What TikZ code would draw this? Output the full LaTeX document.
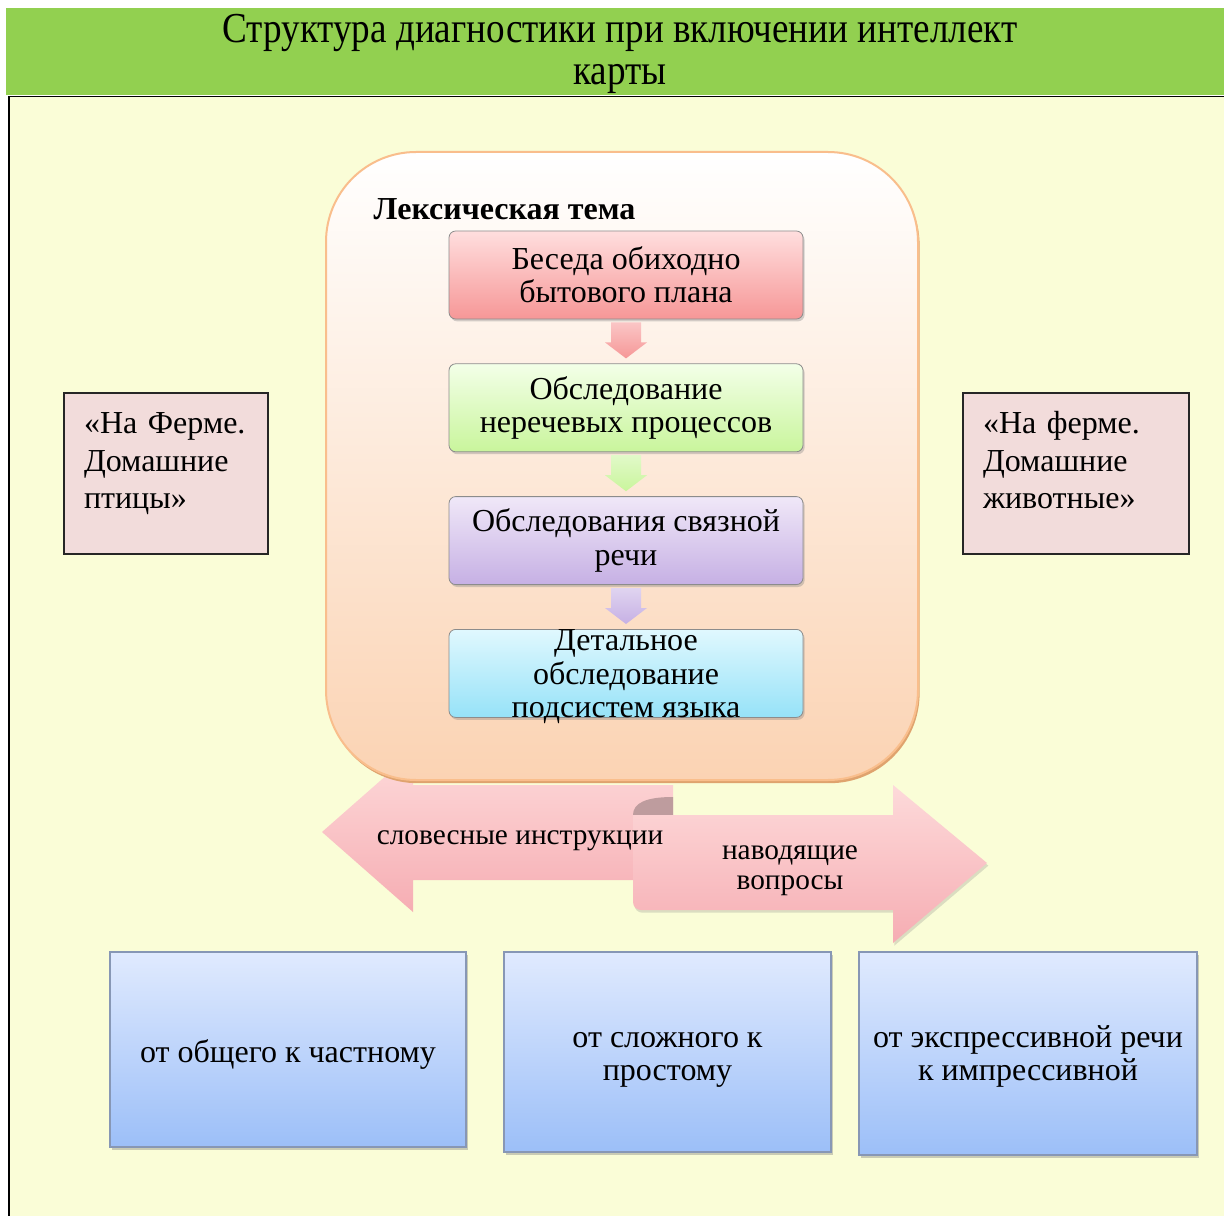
\documentclass[tikz,border=0pt]{standalone}
\usepackage{fontspec}
\setmainfont{Liberation Serif}
\newfontfamily\titlefont[FakeStretch=0.87]{Liberation Serif}
\usepackage{tikz}
\usetikzlibrary{calc}
\usetikzlibrary{positioning}
\usetikzlibrary{shadows}

\definecolor{titleGreen}{HTML}{92D050}
\definecolor{paperYellow}{HTML}{FAFDD7}
\definecolor{frameTop}{HTML}{FFFFFF}
\definecolor{frameBottom}{HTML}{FBD3B3}
\definecolor{frameLine}{HTML}{F9BE8C}
\definecolor{frameShadow}{HTML}{DFA36E}
\definecolor{talkTop}{HTML}{FFDEDE}
\definecolor{talkBottom}{HTML}{F69797}
\definecolor{nonverbalTop}{HTML}{F3FFE8}
\definecolor{nonverbalBottom}{HTML}{C9F59C}
\definecolor{coherentTop}{HTML}{F0E8F8}
\definecolor{coherentBottom}{HTML}{C6B0E4}
\definecolor{detailTop}{HTML}{E0F8FE}
\definecolor{detailBottom}{HTML}{96E2F8}
\definecolor{sideFill}{HTML}{F2DCDB}
\definecolor{ribbonTop}{HTML}{FDDADA}
\definecolor{ribbonBottom}{HTML}{F6ADB3}
\definecolor{ribbonFold}{HTML}{BE9C9E}
\definecolor{methodTop}{HTML}{E0EAFE}
\definecolor{methodBottom}{HTML}{9CBFF8}
\definecolor{methodLine}{HTML}{8797B5}

\newcommand{\blockfont}{\fontsize{24pt}{25pt}\selectfont}
\newcommand{\sidefont}{\fontsize{24pt}{28pt}\selectfont}
\newcommand{\headfont}{\bfseries\fontsize{24pt}{25pt}\selectfont}
\newcommand{\bigtitlefont}{\titlefont\fontsize{32pt}{31.5pt}\selectfont}

\begin{document}
\begin{tikzpicture}[x=0.75pt, y=-0.75pt]
            % Set primary nodes
            \tikzset{
                titleNode/.style={
                        align=center,
                        font=\bigtitlefont
                    }
            }
            \tikzset{
                frameNode/.style={
                        rectangle,
                        rounded corners=67.5pt,
                        draw=frameLine,
                        line width=1.5pt,
                        top color=frameTop,
                        bottom color=frameBottom,
                        minimum width=444pt,
                        minimum height=471pt,
                        drop shadow={shadow xshift=1.2pt, shadow yshift=-2.4pt, fill=frameShadow, opacity=1}
                    }
            }
            \tikzset{
                stepNode/.style={
                        rectangle,
                        rounded corners=5pt,
                        draw=black!45,
                        line width=0.6pt,
                        align=center,
                        font=\blockfont,
                        minimum width=265.5pt,
                        minimum height=66pt,
                        drop shadow={shadow xshift=1.2pt, shadow yshift=-1.8pt, opacity=0.35}
                    }
            }
            \tikzset{
                sideNode/.style={
                        rectangle,
                        draw=black!85,
                        line width=1pt,
                        fill=sideFill,
                        align=left,
                        font=\sidefont,
                        inner xsep=15pt,
                        inner ysep=0pt,
                        text height=30.5pt,
                        text depth=90.25pt
                    }
            }
            \tikzset{
                methodNode/.style={
                        rectangle,
                        draw=methodLine,
                        line width=0.8pt,
                        top color=methodTop,
                        bottom color=methodBottom,
                        align=center,
                        font=\blockfont,
                        text depth=5pt,
                        drop shadow={shadow xshift=1.5pt, shadow yshift=-2.2pt, opacity=0.4}
                    }
            }
            \tikzset{
                ribbonText/.style={
                        align=center,
                        font=\fontsize{22pt}{22.5pt}\selectfont
                    }
            }
            \useasboundingbox (0,0) rectangle (1224,1216);
            % Paper and title band
            \fill[white] (0,0) rectangle (1224,1216);
            \fill[paperYellow] (9,96) rectangle (1224,1216);
            \fill[titleGreen] (6,8) rectangle (1224,95);
            \draw[line width=1.2pt] (9,1216) -- (9,96.5) -- (1224,96.5);
            \node[titleNode] (title) at (620,54) {Структура диагностики при включении интеллект\\карты};
            % Double ribbon arrow (partly under the frame)
            \path[top color=ribbonTop, bottom color=ribbonBottom] (322,832) -- (413,752) -- (413,785) -- (673,785) -- (673,880) -- (413,880) -- (413,912) -- cycle;
            \fill[ribbonFold] (673,797) .. controls (646,797) and (633,803) .. (633,815) -- (673,815) -- cycle;
            \path[top color=ribbonTop, bottom color=ribbonBottom, drop shadow={shadow xshift=1pt, shadow yshift=-2pt, opacity=0.25}] (633,815) -- (893,815) -- (893,785) -- (987,863) -- (893,943) -- (893,910) -- (641,910) [rounded corners=6pt] -- (633,910) [sharp corners] -- cycle;
            \node[ribbonText] (verbal) at (520,841) {словесные инструкции};
            \node[ribbonText] (leading) at (790,871) {наводящие\\вопросы};
            % Placing nodes
            \node[frameNode] (frame) at (622,466) {};
            \node[anchor=west, font=\headfont] (lexTitle) at (369,209) {Лексическая тема};
            \node[stepNode, top color=talkTop, bottom color=talkBottom] (talk) at (626,275) {Беседа обиходно\\бытового плана};
            \node[stepNode, top color=nonverbalTop, bottom color=nonverbalBottom, below = 33pt of talk] (nonverbal) {Обследование\\неречевых процессов};
            \node[stepNode, top color=coherentTop, bottom color=coherentBottom, below = 33pt of nonverbal] (coherent) {Обследования связной\\речи};
            \node[stepNode, top color=detailTop, bottom color=detailBottom, below = 33pt of coherent, inner ysep=0pt, text height=66pt, text depth=0pt] (detail) {Детальное\\обследование\\подсистем языка};
            \node[sideNode, minimum width=153pt, text width=123pt] (birds) at (166,473.5) {«На Ферме.\\Домашние\\птицы»};
            \node[sideNode, minimum width=169.5pt, text width=139.5pt] (animals) at (1076,473.5) {«На ферме.\\Домашние\\животные»};
            % Block arrows between steps
            \foreach \from/\to/\col in {talk/nonverbal/talkBottom, nonverbal/coherent/nonverbalBottom, coherent/detail/coherentBottom}
                \path[top color=\col!55, bottom color=\col] ($(\from.south)+(-15,3)$) -- ($(\from.south)+(15,3)$) -- ($(\from.south)+(15,23)$) -- ($(\from.south)+(21,23)$) -- ($(\to.north)+(0,-5)$) -- ($(\from.south)+(-21,23)$) -- ($(\from.south)+(-15,23)$) -- cycle;
            % Method boxes
            \node[methodNode, minimum width=267pt, minimum height=146.25pt, text height=24.5pt] (general) at (288,1049.5) {от общего к частному};
            \node[methodNode, minimum width=245.25pt, minimum height=150pt, text height=47.75pt] (complex) at (667.5,1052) {от сложного к\\простому};
            \node[methodNode, minimum width=253.5pt, minimum height=152.25pt, text height=45.5pt] (expressive) at (1028,1053.5) {от экспрессивной речи\\к импрессивной};
        \end{tikzpicture}
\end{document}
